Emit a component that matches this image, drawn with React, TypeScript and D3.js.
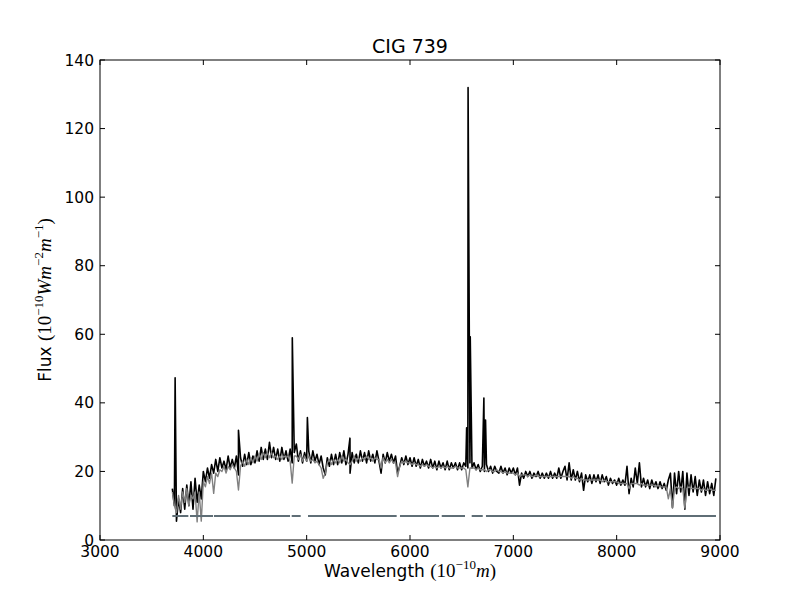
import React from "react";
import * as d3 from "d3";

// ---- data ----
const titleText = "CIG 739";
const xTicks = [3000, 4000, 5000, 6000, 7000, 8000, 9000];
const yTicks = [0, 20, 40, 60, 80, 100, 120, 140];

// wavelength grid (Angstrom) of the sampled spectrum
const gridStart = 3700;
const gridStep = 20;

const observedFlux = [
  15, 10, 5.5, 12, 8, 15, 9, 16, 10, 17,
  9, 18, 11, 16, 12, 20, 17, 21, 18, 22,
  19.5, 23.5, 20, 24, 21, 23, 20.5, 24.5, 21, 23.5,
  21, 24.5, 19, 24, 21.5, 25, 22, 25.5, 22, 24.5,
  22.5, 26, 23, 27, 23.5, 26.5, 23.5, 28.5, 24, 27,
  23.5, 26.5, 23, 27, 23.5, 26, 23, 26.5, 22.5, 25.5,
  28, 23, 26, 22.5, 25.5, 23, 26, 22.5, 26, 23,
  25, 22, 24.5, 21, 19, 24, 21.5, 25, 22, 25,
  22, 25.5, 22.5, 26, 22, 25, 19.5, 25.5, 22.5, 25,
  22.5, 26, 23, 25.5, 22.5, 26, 23, 25, 22.5, 26,
  23, 19.5, 25, 22.5, 25.5, 23, 25, 22.5, 24.5, 19.5,
  21.5, 24, 22, 24.5, 22, 24, 21.5, 24, 21.5, 23.5,
  21, 23.5, 21.5, 23, 21, 23.5, 21, 23, 20.5, 23,
  21, 22.5, 20.5, 23, 20.5, 22.5, 21, 22.5, 20.5, 22.5,
  20.5, 22.5, 21.5, 21, 22.5, 21, 22.5, 20.5, 22, 20,
  21.5, 20, 22, 20, 21.5, 19.5, 21.5, 20, 19.5, 21.5,
  19.5, 21, 19, 21, 19.5, 21, 19, 21, 16, 19.5,
  18, 20, 18.5, 20, 18, 19.5, 18.5, 20, 18, 19.5,
  18, 19.5, 18, 20, 18, 19.5, 18, 21, 18, 20,
  21.5, 17.5, 22.5, 17.5, 20.5, 17.5, 20, 17, 19.5, 14.5,
  19, 17, 19, 16.5, 19, 17, 19, 16.5, 19, 17,
  18.5, 16, 18, 16.5, 17.5, 16, 18, 16, 17.5, 16,
  21.5, 13.5, 18, 15.5, 21, 16.5, 22.5, 15.5, 18, 15.5,
  17.5, 15, 17.5, 15.5, 17, 15, 17, 15, 16.5, 14.5,
  17.5, 19.5, 9.5, 19.5, 13.5, 20, 14, 20, 9, 19.5,
  13, 19, 14, 18.5, 13, 17.5, 14, 17.5, 13, 17,
  13.5, 16.5, 13, 18,
];

// fitted stellar model (grey), same grid
const modelFlux = [
  14, 10, 8, 13, 9, 14, 11, 15, 10, 13,
  12, 14, 5.3, 14, 5.5, 17, 15.5, 18.5, 16.5, 19.5,
  13.6, 19.5, 18.5, 20.5, 20, 21.5, 19.5, 21.5, 20.5, 22,
  21, 20, 14.6, 21.5, 23, 21.5, 23.5, 22, 24, 22.5,
  24.5, 23, 25, 23.5, 25.5, 24, 25.5, 24, 25.5, 24,
  24.5, 23.5, 24.5, 23.5, 24.5, 24, 24.5, 23, 16.6, 24.5,
  24.5, 23.5, 25, 23, 24.5, 23, 24.5, 23, 23.5, 22.5,
  23, 22, 21, 18, 19.5, 22.5, 23.5, 22, 23.5, 22.5,
  23.5, 22.5, 24.5, 23, 23.5, 22.5, 22, 23, 24.5, 23,
  24, 23, 24, 23.5, 24.5, 23.5, 24, 23, 24, 23.5,
  23.5, 21, 24, 22.5, 23.5, 22.5, 23.5, 22.5, 22.5, 18.5,
  21.5, 23, 22.5, 23, 22.5, 22.5, 22, 22.5, 22, 22,
  21.5, 22, 21.5, 22, 21.5, 21.5, 21, 21.5, 21, 21.5,
  21, 21.5, 21, 21.5, 21, 21, 21, 21.5, 21, 21,
  21, 21, 20.5, 15.5, 21, 21, 21, 20.5, 21, 20.5,
  20.5, 20.5, 20, 20.5, 20.5, 20, 20, 20.5, 20, 20,
  19.5, 20, 19.5, 19.5, 19.5, 19.5, 19, 19.5, 18.5, 19,
  19, 19, 18.5, 19, 18.5, 18.5, 19, 18.5, 18.5, 18.5,
  18.5, 18.5, 18.5, 18.5, 18.5, 18.5, 18.5, 18.5, 18.5, 18.5,
  18.5, 18.5, 18.5, 18, 18.5, 18, 18, 17.5, 18, 17.5,
  17.5, 17.5, 17.5, 17.5, 17.5, 17.5, 17.5, 17.5, 17, 17.5,
  17, 17, 17, 17, 17, 17, 16.5, 16.5, 16.5, 16.5,
  16.5, 15, 16.5, 16.5, 16.5, 16.5, 16, 16.5, 16, 16,
  16, 16, 16, 16, 15.5, 16, 15.5, 15.5, 15.5, 15.5,
  12, 15, 9.3, 15, 15.5, 15, 15.5, 15, 9.3, 15,
  15.5, 15, 15, 15, 15, 15, 14.5, 15, 14.5, 14.5,
  15, 14.5, 14.5, 14.5,
];

// emission-line peaks in the observed spectrum
const emissionWave = [3727, 4340, 4861, 5007, 5419, 6548, 6562, 6583, 6715, 6731];
const emissionPeak = [47.3, 32, 59, 35.7, 29.7, 32.7, 132, 59.3, 41.4, 35];

// masked-pixel indicator (dashed grey line)
const maskLevel = 7;
const maskStart = [3700, 3871, 4103, 4855, 5013, 5903, 6307, 6597, 6735];
const maskEnd = [3855, 4094, 4839, 4942, 5871, 6281, 6532, 6704, 8961];

// ---- chart ----
const W = 800;
const H = 600;
const plotL = 100;
const plotR = 720;
const plotT = 60;
const plotB = 540;

export default function App() {
  const x = d3.scaleLinear().domain([3000, 9000]).range([plotL, plotR]);
  const y = d3.scaleLinear().domain([0, 140]).range([plotB, plotT]);

  const obsPts: [number, number][] = observedFlux.map((f, i) => [gridStart + i * gridStep, f]);
  emissionWave.forEach((w, i) => obsPts.push([w, emissionPeak[i]]));
  obsPts.sort((a, b) => a[0] - b[0]);
  const modPts: [number, number][] = modelFlux.map((f, i) => [gridStart + i * gridStep, f]);

  const line = d3
    .line<[number, number]>()
    .x((d) => x(d[0]))
    .y((d) => y(d[1]));

  const sans = "'DejaVu Sans', sans-serif";
  const serif = "'Liberation Serif', 'DejaVu Serif', serif";
  const tickLen = 5;

  return (
    <div style={{ position: "fixed", left: 0, top: 0, width: W, height: H, background: "#fff" }}>
      <svg width={W} height={H} style={{ display: "block" }}>
        <rect x={0} y={0} width={W} height={H} fill="#fff" />
        <defs>
          <clipPath id="plotclip">
            <rect x={plotL} y={plotT} width={plotR - plotL} height={plotB - plotT} />
          </clipPath>
        </defs>
        <g clipPath="url(#plotclip)">
          <path d={line(obsPts) || ""} fill="none" stroke="#000" strokeWidth={1.6} strokeLinejoin="round" />
          <path d={line(modPts) || ""} fill="none" stroke="#808080" strokeWidth={1.4} strokeLinejoin="round" />
          {maskStart.map((s, i) => (
            <line
              key={i}
              x1={x(s)}
              x2={x(maskEnd[i])}
              y1={y(maskLevel)}
              y2={y(maskLevel)}
              stroke="#5f6e76"
              strokeWidth={2}
            />
          ))}
        </g>
        {/* frame */}
        <rect x={plotL} y={plotT} width={plotR - plotL} height={plotB - plotT} fill="none" stroke="#000" strokeWidth={1} />
        {/* x ticks */}
        {xTicks.map((t) => (
          <g key={"x" + t}>
            <line x1={x(t)} x2={x(t)} y1={plotB} y2={plotB - tickLen} stroke="#000" />
            <line x1={x(t)} x2={x(t)} y1={plotT} y2={plotT + tickLen} stroke="#000" />
            <text x={x(t)} y={557} textAnchor="middle" fontFamily={sans} fontSize={15.5}>
              {t}
            </text>
          </g>
        ))}
        {/* y ticks */}
        {yTicks.map((t) => (
          <g key={"y" + t}>
            <line x1={plotL} x2={plotL + tickLen} y1={y(t)} y2={y(t)} stroke="#000" />
            <line x1={plotR} x2={plotR - tickLen} y1={y(t)} y2={y(t)} stroke="#000" />
            <text x={94} y={y(t)} dy="0.36em" textAnchor="end" fontFamily={sans} fontSize={15.5}>
              {t}
            </text>
          </g>
        ))}
        {/* title */}
        <text x={410} y={53} textAnchor="middle" fontFamily={sans} fontSize={19}>
          {titleText}
        </text>
        {/* x label */}
        <text x={410} y={577} textAnchor="middle" fontSize={17}>
          <tspan fontFamily={sans}>Wavelength </tspan>
          <tspan fontFamily={serif} fontSize={19}>(10</tspan>
          <tspan fontFamily={serif} fontSize={13} dy={-8}>−10</tspan>
          <tspan fontFamily={serif} fontSize={19} fontStyle="italic" dy={8}>m</tspan>
          <tspan fontFamily={serif} fontSize={19}>)</tspan>
        </text>
        {/* y label */}
        <text transform="translate(51,300) rotate(-90)" textAnchor="middle" fontSize={17}>
          <tspan fontFamily={sans}>Flux </tspan>
          <tspan fontFamily={serif} fontSize={19}>(10</tspan>
          <tspan fontFamily={serif} fontSize={13} dy={-8}>−10</tspan>
          <tspan fontFamily={serif} fontSize={19} fontStyle="italic" dy={8}>Wm</tspan>
          <tspan fontFamily={serif} fontSize={13} dy={-8}>−2</tspan>
          <tspan fontFamily={serif} fontSize={19} fontStyle="italic" dy={8}>m</tspan>
          <tspan fontFamily={serif} fontSize={13} dy={-8}>−1</tspan>
          <tspan fontFamily={serif} fontSize={19} dy={8}>)</tspan>
        </text>
      </svg>
    </div>
  );
}
